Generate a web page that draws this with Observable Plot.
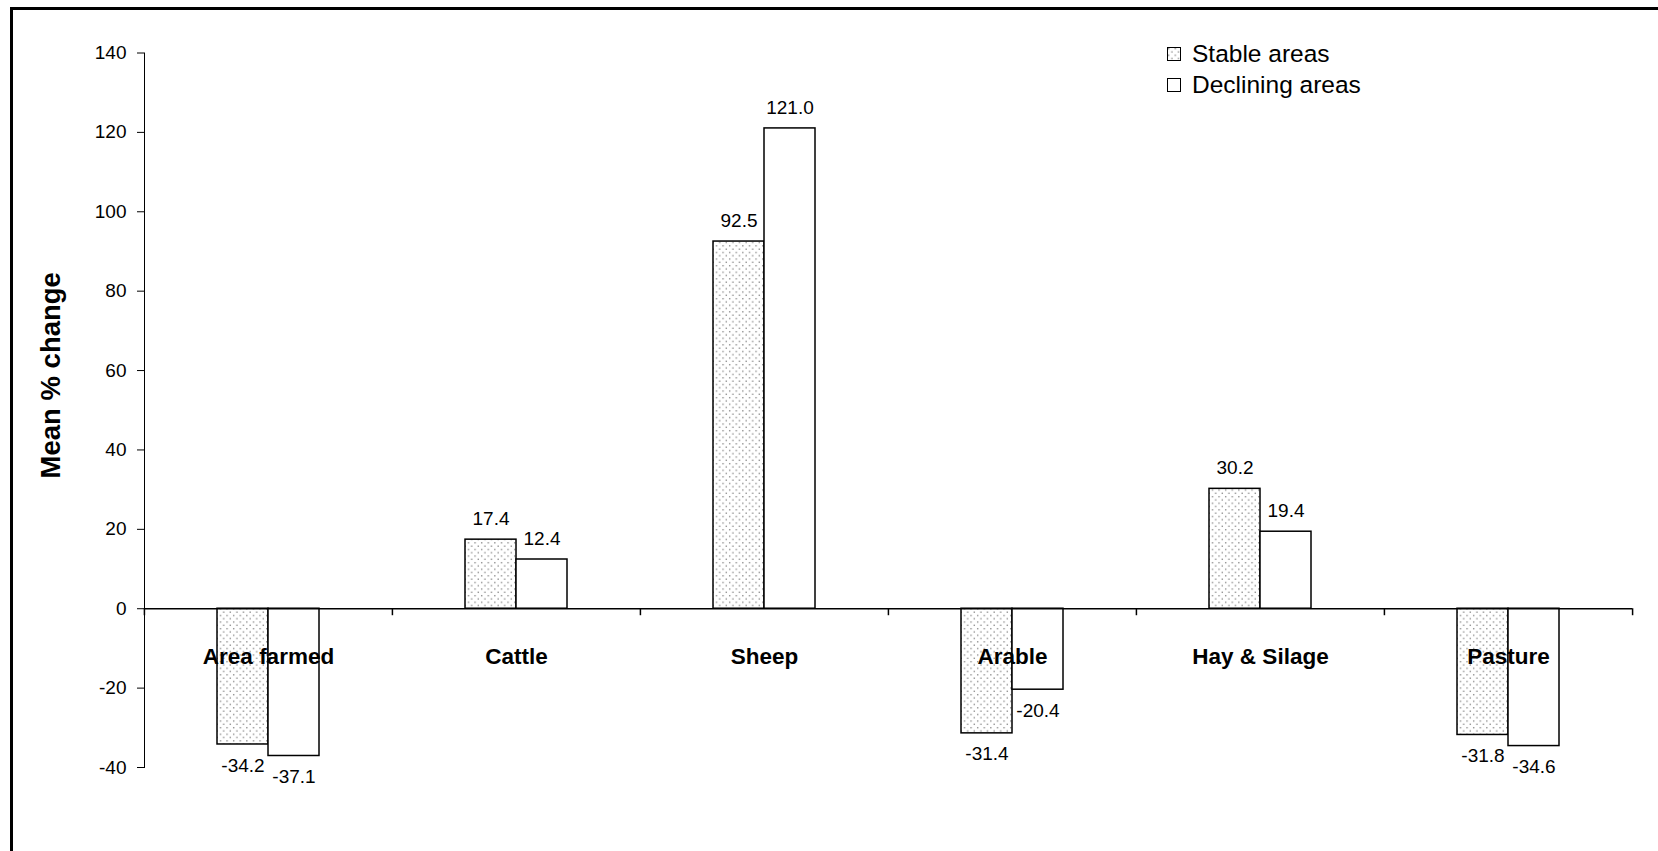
<!DOCTYPE html>
<html>
<head>
<meta charset="utf-8">
<script src="https://cdn.jsdelivr.net/npm/d3@7"></script>
<script src="https://cdn.jsdelivr.net/npm/@observablehq/plot@0.6"></script>
<style>
  html, body { margin: 0; padding: 0; background: #fff; overflow: hidden; }
  #wrap { position: relative; width: 1658px; height: 851px; font-family: "Liberation Sans", Arial, sans-serif; }
  #chart { position: absolute; left: 0; top: 0; }
  #border { position: absolute; left: 10px; top: 7px; width: 3000px; height: 3000px; border: 3px solid #000; box-sizing: border-box; pointer-events: none; }
  #legend { position: absolute; left: 1167px; top: 38px; font-size: 24.5px; color: #000; }
  .item { display: flex; align-items: center; height: 31px; white-space: nowrap; }
  .item svg { margin-right: 11px; display: block; }
</style>
</head>
<body>
<svg width="0" height="0" style="position:absolute">
  <defs>
    <pattern id="dots" width="6.6" height="6.6" patternUnits="userSpaceOnUse">
      <rect width="6.6" height="6.6" fill="#fff"/>
      <rect x="1" y="1" width="1.3" height="1.3" fill="#808080"/>
      <rect x="4.3" y="4.3" width="1.3" height="1.3" fill="#808080"/>
    </pattern>
  </defs>
</svg>
<div id="wrap">
  <div id="chart"></div>
  <div id="legend"></div>
  <div id="border"></div>
</div>
<script>
const categories = ["Area farmed", "Cattle", "Sheep", "Arable", "Hay & Silage", "Pasture"];
const seriesNames = ["Stable areas", "Declining areas"];
const stableValues = [-34.2, 17.4, 92.5, -31.4, 30.2, -31.8];
const decliningValues = [-37.1, 12.4, 121.0, -20.4, 19.4, -34.6];
const yTicks = [-40, -20, 0, 20, 40, 60, 80, 100, 120, 140];
const yTitle = "Mean % change";

const seriesFills = ["url(#dots)", "#fff"];

const data = categories.flatMap((c, i) => [
  {category: c, series: seriesNames[0], value: stableValues[i]},
  {category: c, series: seriesNames[1], value: decliningValues[i]}
]);

const W = 1658, H = 851;
const ML = 143, MR = 26, MT = 52.5, MB = 84;
const facetW = (W - ML - MR) / categories.length;

const chart = Plot.plot({
  width: W,
  height: H,
  marginLeft: ML,
  marginRight: MR,
  marginTop: MT,
  marginBottom: MB,
  style: {fontFamily: "'Liberation Sans', Arial, sans-serif", fontSize: "19px", color: "#000", background: "transparent", overflow: "visible"},
  fx: {domain: categories, padding: 0, axis: null, label: null},
  x: {domain: seriesNames, paddingInner: 0, paddingOuter: 1.41, axis: null},
  y: {domain: [-40, 140], ticks: yTicks, tickSize: 7, tickPadding: 11, line: true, label: null, tickFormat: d => String(d)},
  color: {type: "ordinal", domain: seriesNames, range: seriesFills},
  marks: [
    Plot.barY(data, {fx: "category", x: "series", y: "value", fill: "series", stroke: "#000", strokeWidth: 1.5}),
    Plot.ruleY([0], {stroke: "#000", strokeWidth: 1.5}),
    Plot.ruleX(categories, {fx: d => d, x: null, y1: 0, y2: 0, insetBottom: -7, dx: -facetW / 2, stroke: "#000", strokeWidth: 1.5}),
    Plot.ruleX(categories.slice(-1), {fx: d => d, x: null, y1: 0, y2: 0, insetBottom: -7, dx: facetW / 2, stroke: "#000", strokeWidth: 1.5}),
    Plot.text(data.filter(d => d.value >= 0), {fx: "category", x: "series", y: "value", text: d => d.value.toFixed(1), dy: -21, fontSize: 19, fill: "#000"}),
    Plot.text(data.filter(d => d.value < 0), {fx: "category", x: "series", y: "value", text: d => d.value.toFixed(1), dy: 21, fontSize: 19, fill: "#000"}),
    Plot.text(categories, {fx: d => d, text: d => d, y: 0, dy: 48, fontSize: 22.5, fontWeight: "bold", fill: "#000"}),
    Plot.text([yTitle], {fx: () => categories[0], text: d => d, frameAnchor: "left", textAnchor: "middle", rotate: -90, dx: -93, dy: -35, fontSize: 27.5, fontWeight: "bold", fill: "#000"})
  ]
});
document.getElementById("chart").appendChild(chart);

// Legend
const legend = d3.select("#legend");
seriesNames.forEach((name, i) => {
  const item = legend.append("div").attr("class", "item");
  const sw = item.append("svg").attr("width", 14).attr("height", 14);
  sw.append("rect").attr("x", 0.5).attr("y", 0.5).attr("width", 13).attr("height", 13)
    .attr("fill", seriesFills[i]).attr("stroke", "#000").attr("stroke-width", 1);
  item.append("span").text(name);
});
</script>
</body>
</html>
